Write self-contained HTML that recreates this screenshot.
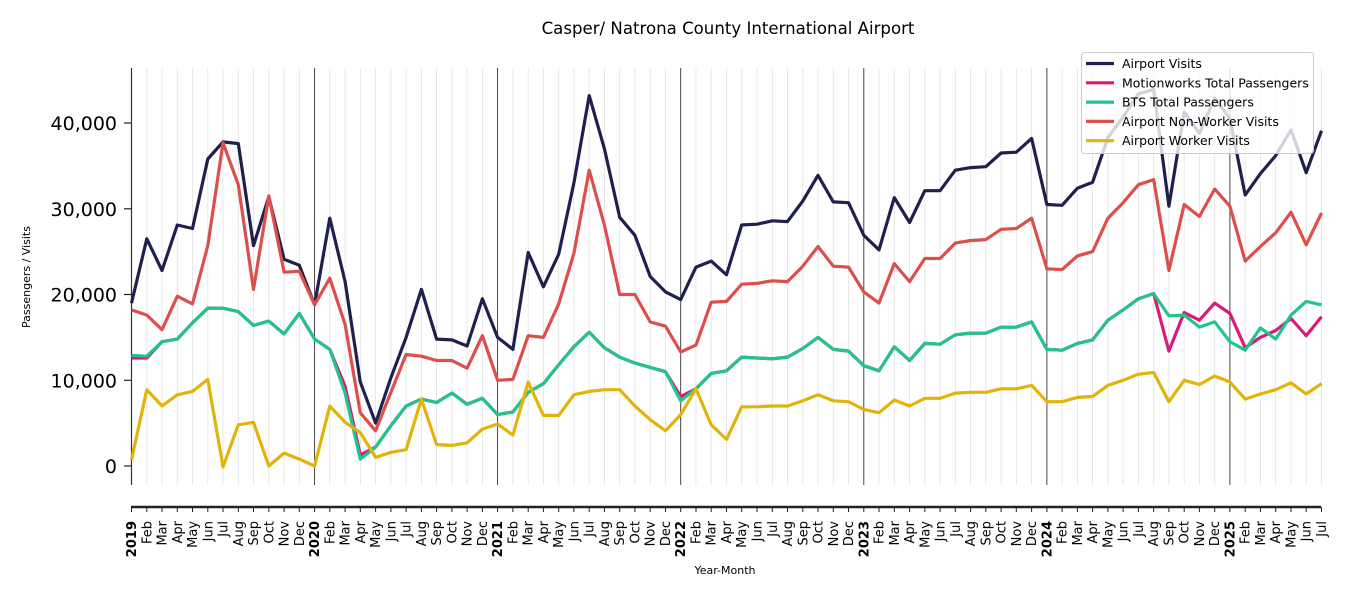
<!DOCTYPE html>
<html><head><meta charset="utf-8"><style>
html,body{margin:0;padding:0;background:#fff;width:1350px;height:600px;overflow:hidden}
svg text{font-family:"DejaVu Sans","Liberation Sans",sans-serif;fill:#000}
</style></head><body>
<svg id="c" width="1350" height="600" xmlns="http://www.w3.org/2000/svg"></svg>
<script>
const av=[19000,26500,22800,28100,27700,35800,37800,37600,25700,31400,24100,23400,18800,28900,21500,9800,5000,10300,15000,20600,14800,14700,14000,19500,15000,13600,24900,20900,24700,33000,43200,37000,29000,26900,22100,20300,19400,23200,23900,22300,28100,28200,28600,28500,30900,33900,30800,30700,26900,25200,31300,28400,32100,32100,34500,34800,34900,36500,36600,38200,30500,30400,32400,33100,38300,40700,43400,43900,30300,41300,38800,42900,40500,31600,34100,36200,39200,34200,39100];
const nw=[18200,17600,15900,19800,18900,25700,37700,32800,20600,31500,22600,22700,18800,21900,16500,6200,4100,8600,13000,12800,12300,12300,11400,15200,10000,10100,15200,15000,18900,24800,34500,28100,20000,20000,16800,16300,13300,14100,19100,19200,21200,21300,21600,21500,23300,25600,23300,23200,20300,19000,23600,21500,24200,24200,26000,26300,26400,27600,27700,28900,23000,22900,24500,25000,28900,30700,32800,33400,22800,30500,29100,32300,30300,23900,25600,27200,29600,25800,29500];
const bts=[12900,12800,14500,14800,16700,18400,18400,18000,16400,16900,15400,17800,14800,13600,8500,800,2200,4700,7000,7800,7400,8500,7200,7900,6000,6300,8600,9600,11800,13900,15600,13800,12700,12000,11500,11000,7600,9000,10800,11100,12700,12600,12500,12700,13700,15000,13600,13400,11700,11100,13900,12300,14300,14200,15300,15500,15500,16200,16200,16800,13600,13500,14300,14700,17000,18200,19500,20100,17500,17600,16200,16800,14500,13500,16100,14800,17600,19200,18800];
const mw=bts.slice();
Object.assign(mw,{0:12600,1:12600,14:9300,15:1300,36:8100,68:13400,69:17900,70:17000,71:19000,72:17800,73:13800,74:15000,75:15800,76:17200,77:15200,78:17400});
const wk=[700,8900,7000,8300,8700,10100,-100,4800,5100,0,1500,800,0,7000,5100,3900,1000,1600,1900,7800,2500,2400,2700,4300,4900,3600,9800,5900,5900,8300,8700,8900,8900,7000,5400,4100,6000,9000,4800,3100,6900,6900,7000,7000,7600,8300,7600,7500,6600,6200,7700,7000,7900,7900,8500,8600,8600,9000,9000,9400,7500,7500,8000,8100,9400,10000,10700,10900,7500,10000,9500,10500,9800,7800,8400,8900,9700,8400,9600];
const X=i=>131.5+i*15.256, Y=v=>466-v*0.008575;
let s='';
const mn=['Jan','Feb','Mar','Apr','May','Jun','Jul','Aug','Sep','Oct','Nov','Dec'];
for(let i=0;i<=78;i++){const x=X(i).toFixed(1);const yr=i%12==0;
 s+=`<line x1="${x}" y1="68" x2="${x}" y2="485" stroke="${yr?'#333':'#e2e2e2'}" stroke-width="${yr?0.9:0.8}"/>`;
 s+=`<line x1="${x}" y1="507" x2="${x}" y2="512" stroke="#222" stroke-width="1"/>`;
 const lab=yr?(2019+i/12):mn[i%12];
 s+=`<text transform="translate(${(X(i)+4.5).toFixed(1)},521) rotate(-90)" text-anchor="end" font-size="13" ${yr?'font-weight="bold"':''}>${lab}</text>`;}
s+=`<line x1="131.5" y1="68" x2="131.5" y2="485" stroke="#333" stroke-width="1.2"/>`;
s+=`<line x1="131" y1="507" x2="1321" y2="507" stroke="#222" stroke-width="2.5"/>`;
for(const v of [0,10000,20000,30000,40000]){const y=Y(v).toFixed(1);
 s+=`<line x1="124" y1="${y}" x2="131" y2="${y}" stroke="#222" stroke-width="1.2"/>`;
 s+=`<text x="117" y="${(Y(v)+7).toFixed(1)}" text-anchor="end" font-size="19">${v.toLocaleString('en-US')}</text>`;}
const line=(d,c)=>{s+=`<polyline fill="none" stroke="${c}" stroke-width="3.2" stroke-linejoin="round" points="${d.map((v,i)=>X(i).toFixed(1)+','+Y(v).toFixed(1)).join(' ')}"/>`;};
line(av,'#20204f');line(mw,'#d81b7b');line(bts,'#22c48c');line(nw,'#dc4f4a');line(wk,'#e2b40a');
s+=`<text x="728" y="34" text-anchor="middle" font-size="16.6">Casper/ Natrona County International Airport</text>`;
s+=`<text x="725" y="574" text-anchor="middle" font-size="11">Year-Month</text>`;
s+=`<text transform="translate(30,277) rotate(-90)" text-anchor="middle" font-size="11">Passengers / Visits</text>`;
s+=`<rect x="1081.5" y="52.5" width="232" height="101" rx="3" fill="#fff" fill-opacity="0.8" stroke="#ccc"/>`;
const L=[['Airport Visits','#20204f'],['Motionworks Total Passengers','#d81b7b'],['BTS Total Passengers','#22c48c'],['Airport Non-Worker Visits','#dc4f4a'],['Airport Worker Visits','#e2b40a']];
L.forEach((l,k)=>{const y=63.5+k*19.3;s+=`<line x1="1086" y1="${y}" x2="1114" y2="${y}" stroke="${l[1]}" stroke-width="3.2"/><text x="1122" y="${y+4.5}" font-size="12.5">${l[0]}</text>`;});
document.getElementById('c').innerHTML=s;
</script>
</body></html>
